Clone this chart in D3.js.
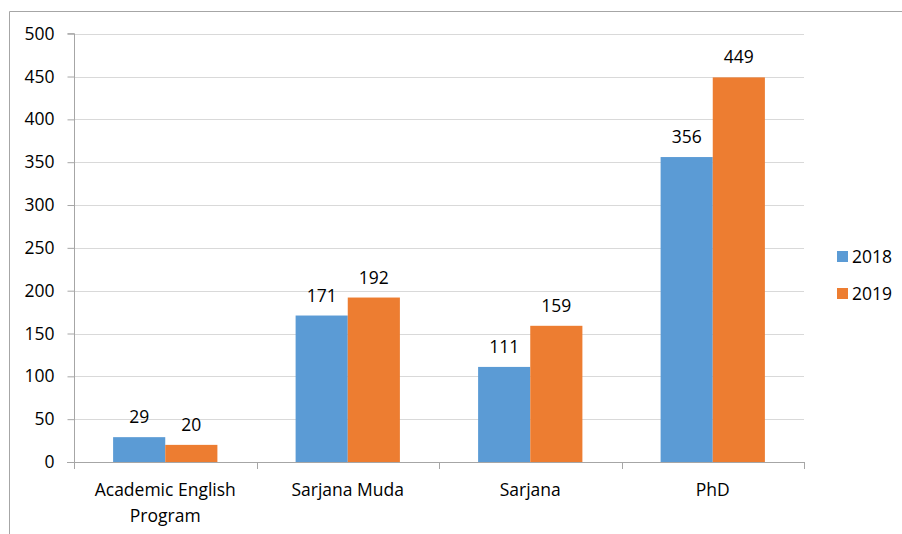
<!DOCTYPE html>
<html>
<head>
<meta charset="utf-8">
<script src="https://cdn.jsdelivr.net/npm/d3@7"></script>
<style>
  body { margin: 0; background: #fff; }
  text { font-family: "Open Sans", "Noto Sans", sans-serif; fill: #000; }
</style>
</head>
<body>
<svg id="chart" width="902" height="534"></svg>
<script>
// data
var categories = [["Academic English", "Program"], ["Sarjana Muda"], ["Sarjana"], ["PhD"]];
var years = ["2018", "2019"];
var values2018 = [29, 171, 111, 356];
var values2019 = [20, 192, 159, 449];
var yTicks = [0, 50, 100, 150, 200, 250, 300, 350, 400, 450, 500];
var colors = ["#5B9BD5", "#ED7D31"];

var svg = d3.select("svg#chart");
var fs = 17.5;

// outer frame (cut at right/bottom like the screenshot)
svg.append("path")
   .attr("d", "M9.5,534 V11.5 H902")
   .attr("fill", "none")
   .attr("stroke", "#a6a6a6")
   .attr("stroke-width", 1);

var plotLeft = 74, plotRight = 804, plotTop = 33.7, plotBottom = 462;

var y = d3.scaleLinear().domain([0, 500]).range([plotBottom, plotTop]);
var x = d3.scaleBand().domain(d3.range(categories.length)).range([plotLeft, plotRight]).paddingInner(0).paddingOuter(0);
var inner = d3.scaleBand().domain([0, 1]).range([0, x.bandwidth()]).paddingInner(0).paddingOuter(0.75);

// gridlines
svg.append("g").selectAll("line")
   .data(yTicks.filter(function(d){ return d > 0; }))
   .enter().append("line")
   .attr("x1", plotLeft).attr("x2", plotRight)
   .attr("y1", function(d){ return Math.round(y(d)) + 0.5; })
   .attr("y2", function(d){ return Math.round(y(d)) + 0.5; })
   .attr("stroke", "#d9d9d9")
   .attr("stroke-width", 1);

// y axis
var yAxis = d3.axisLeft(y).tickValues(yTicks).tickSize(7).tickPadding(13);
var yg = svg.append("g")
   .attr("transform", "translate(" + (plotLeft + 0.5) + ",0)")
   .call(yAxis);
yg.selectAll("text").attr("font-size", fs).style("font-family", "'Open Sans', sans-serif").attr("fill", "#000");
yg.selectAll("line").attr("stroke", "#a6a6a6");
yg.select(".domain").attr("stroke", "#a6a6a6").attr("d", "M-7," + plotTop + "H0V" + plotBottom);

// bars
var series = [values2018, values2019];
series.forEach(function(vals, si){
    svg.append("g").selectAll("rect")
       .data(vals)
       .enter().append("rect")
       .attr("x", function(d, i){ return x(i) + inner(si); })
       .attr("width", inner.bandwidth())
       .attr("y", function(d){ return y(d); })
       .attr("height", function(d){ return plotBottom - y(d); })
       .attr("fill", colors[si]);

    svg.append("g").selectAll("text")
       .data(vals)
       .enter().append("text")
       .attr("x", function(d, i){ return x(i) + inner(si) + inner.bandwidth() / 2; })
       .attr("y", function(d){ return y(d) - 14; })
       .attr("text-anchor", "middle")
       .attr("font-size", fs)
       .text(function(d){ return d; });
});

// x axis line + ticks
var xg = svg.append("g");
xg.append("line")
  .attr("x1", plotLeft - 7).attr("x2", plotRight)
  .attr("y1", plotBottom + 0.5).attr("y2", plotBottom + 0.5)
  .attr("stroke", "#a6a6a6");
xg.selectAll("line.tick")
  .data(d3.range(categories.length + 1))
  .enter().append("line")
  .attr("class", "tick")
  .attr("x1", function(i){ return Math.round(plotLeft + i * x.bandwidth()) + 0.5; })
  .attr("x2", function(i){ return Math.round(plotLeft + i * x.bandwidth()) + 0.5; })
  .attr("y1", plotBottom).attr("y2", plotBottom + 7)
  .attr("stroke", "#a6a6a6");

var labels = svg.append("g").selectAll("text")
  .data(categories)
  .enter().append("text")
  .attr("text-anchor", "middle")
  .attr("font-size", fs);
labels.each(function(lines, i){
    var t = d3.select(this);
    lines.forEach(function(l, k){
        t.append("tspan")
         .attr("x", x(i) + x.bandwidth() / 2)
         .attr("y", 496 + k * 26)
         .text(l);
    });
});

// legend
var leg = svg.append("g").selectAll("g")
  .data(years)
  .enter().append("g")
  .attr("transform", function(d, i){ return "translate(837," + (251 + i * 37) + ")"; });
leg.append("rect")
   .attr("width", 11).attr("height", 11)
   .attr("fill", function(d, i){ return colors[i]; });
leg.append("text")
   .attr("x", 15).attr("y", 11.5)
   .attr("font-size", fs)
   .text(function(d){ return d; });
</script>
</body>
</html>
